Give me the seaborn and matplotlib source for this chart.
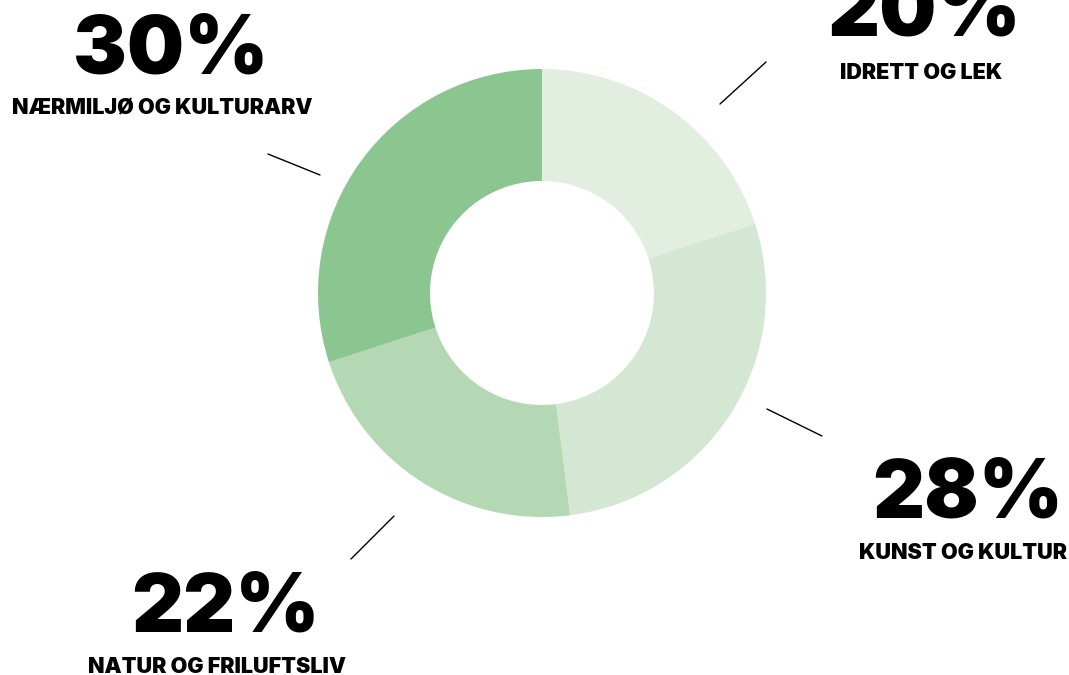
import matplotlib
matplotlib.use("Agg")
import matplotlib.pyplot as plt
import seaborn as sns

# data
categories = ["IDRETT OG LEK", "KUNST OG KULTUR", "NATUR OG FRILUFTSLIV", "NÆRMILJØ OG KULTURARV"]
shares = [20, 28, 22, 30]
colors = ["#e2efe0", "#d4e7d2", "#b4d8b3", "#8bc590"]

sns.set_theme(style="white")
plt.rcParams["font.family"] = ["Inter", "DejaVu Sans"]

W, H = 1069, 675
fig = plt.figure(figsize=(W / 100, H / 100), dpi=100)
ax = fig.add_axes([0, 0, 1, 1])

# donut, starting at 12 o'clock going clockwise
cx, cy, r = 542, H - 293, 224
ax.pie(shares, colors=colors, startangle=90, counterclock=False,
       center=(cx, cy), radius=r, wedgeprops=dict(width=r * 0.5, linewidth=0),
       frame=True)
ax.set_xlim(0, W)
ax.set_ylim(0, H)
ax.set_aspect("equal")
ax.axis("off")

# label layout (pixel coords from top-left)
pct_pos = [(924, 15), (968, 496), (226, 610), (171, 53)]
name_pos = [(921, 73), (963, 553), (217, 667), (162, 108)]
leaders = [((720, 104), (766, 62)), ((767, 409), (822, 436)),
           ((351, 559), (394, 516)), ((268, 154), (320, 175))]

for cat, val, (px, py), (nx, ny), ((x0, y0), (x1, y1)) in zip(
        categories, shares, pct_pos, name_pos, leaders):
    ax.text(px, H - py, f"{val}%", ha="center", va="center",
            fontsize=58, fontweight="black", color="black")
    ax.text(nx, H - ny, cat, ha="center", va="center",
            fontsize=15.5, fontweight="black", color="black")
    ax.plot([x0, x1], [H - y0, H - y1], color="black", lw=1)

fig.savefig("out.png", dpi=100)
